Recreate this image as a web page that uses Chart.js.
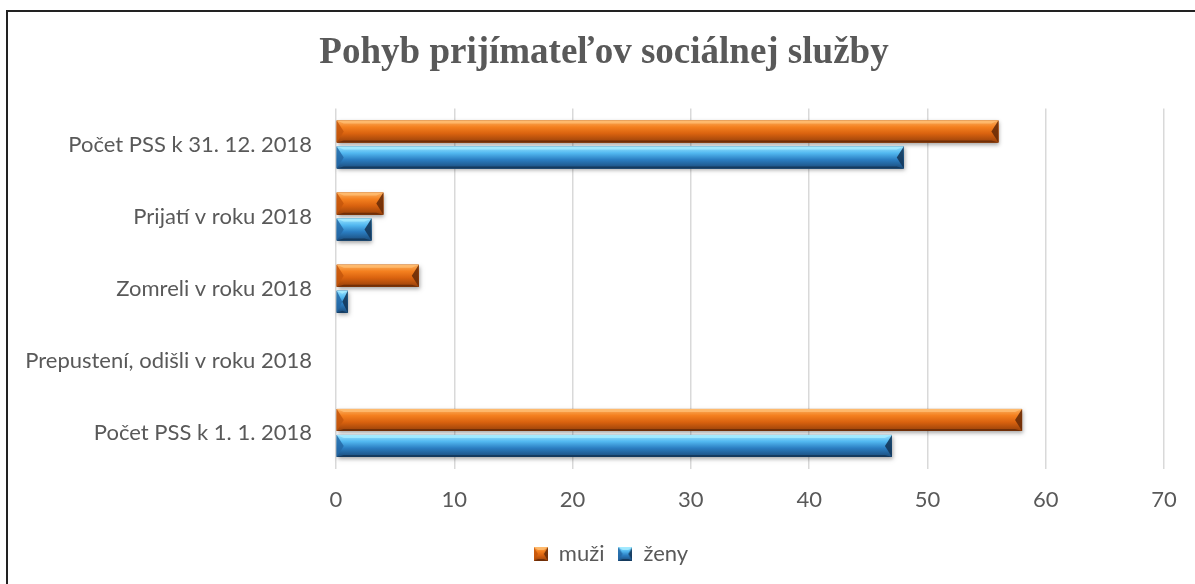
<!DOCTYPE html>
<html>
<head>
<meta charset="utf-8">
<script src="https://cdn.jsdelivr.net/npm/chart.js@4"></script>
<style>
  html, body { margin: 0; padding: 0; background: #fff; overflow: hidden; }
  #wrap { position: relative; width: 1195px; height: 584px; overflow: hidden; }
  #frame { position: absolute; left: 6px; top: 10px; width: 1300px; height: 700px; border: 2px solid #222; pointer-events: none; }
</style>
</head>
<body>
<div id="wrap">
  <canvas id="chart" width="1195" height="584"></canvas>
  <div id="frame"></div>
</div>
<script>
const categories = [
  'Počet PSS k 31. 12. 2018',
  'Prijatí v roku 2018',
  'Zomreli v roku 2018',
  'Prepustení, odišli v roku 2018',
  'Počet PSS k 1. 1. 2018'
];
const muzi = [56, 4, 7, 0, 58];
const zeny = [48, 3, 1, 0, 47];
const xTicks = [0, 10, 20, 30, 40, 50, 60, 70];

const textColor = '#595959';
const labelFont = "'Lato', 'Open Sans', sans-serif";

// bevel colours per series
const bevel = {
  muzi: { stops: ['#fbb060', '#f4801f', '#d9620f', '#96400a'], light: '#ffbe73', dark: '#6a2c08', end: '#c4560c' },
  zeny: { stops: ['#9ae4ff', '#52b8f0', '#2b7ec2', '#1b4b7a'], light: '#a8ecff', dark: '#14375a', end: '#2569a6' }
};

function drawBevelBox(ctx, c, left, top, w, h, b) {
  const right = left + w, bottom = top + h;
  const g = ctx.createLinearGradient(0, top, 0, bottom);
  g.addColorStop(0, c.stops[0]);
  g.addColorStop(0.3, c.stops[1]);
  g.addColorStop(0.6, c.stops[2]);
  g.addColorStop(1, c.stops[3]);
  ctx.fillStyle = g;
  ctx.fillRect(left, top, w, h);

  ctx.save();
  ctx.fillStyle = c.light;
  ctx.globalAlpha = 0.8;
  ctx.beginPath();
  ctx.moveTo(left, top); ctx.lineTo(right, top);
  ctx.lineTo(right - b, top + 3); ctx.lineTo(left + b, top + 3);
  ctx.closePath(); ctx.fill();

  ctx.globalAlpha = 0.9;
  ctx.fillStyle = c.dark;
  ctx.beginPath();
  ctx.moveTo(left, bottom); ctx.lineTo(right, bottom);
  ctx.lineTo(right - b, bottom - 2); ctx.lineTo(left + b, bottom - 2);
  ctx.closePath(); ctx.fill();

  ctx.globalAlpha = 0.85;
  ctx.fillStyle = c.end;
  ctx.beginPath();
  ctx.moveTo(left, top); ctx.lineTo(left + b, top + h / 2); ctx.lineTo(left, bottom);
  ctx.closePath(); ctx.fill();

  ctx.globalAlpha = 0.9;
  ctx.fillStyle = c.dark;
  ctx.beginPath();
  ctx.moveTo(right, top); ctx.lineTo(right - b, top + h / 2); ctx.lineTo(right, bottom);
  ctx.closePath(); ctx.fill();
  ctx.restore();
}

// small bevelled swatch for the legend
function legendIcon(c) {
  const cv = document.createElement('canvas');
  cv.width = 14; cv.height = 14;
  drawBevelBox(cv.getContext('2d'), c, 0, 0, 14, 14, 4);
  return cv;
}

// draws the bevelled look over the plain bars
const bevelPlugin = {
  id: 'bevel',
  afterDatasetsDraw(chart) {
    const ctx = chart.ctx;
    chart.data.datasets.forEach((ds, i) => {
      const meta = chart.getDatasetMeta(i);
      const c = bevel[ds.key];
      meta.data.forEach(bar => {
        const { x, y, base, height } = bar.getProps(['x', 'y', 'base', 'height'], true);
        const left = Math.min(x, base), right = Math.max(x, base);
        const top = y - height / 2;
        const w = right - left;
        if (w < 0.5) return;

        ctx.save();
        ctx.shadowColor = 'rgba(0,0,0,0.35)';
        ctx.shadowBlur = 4;
        ctx.shadowOffsetY = 2;
        ctx.shadowOffsetX = 1;
        ctx.fillStyle = c.stops[3];
        ctx.fillRect(left, top, w, height);
        ctx.restore();

        drawBevelBox(ctx, c, left, top, w, height, Math.min(7, w / 2));
      });
    });
  }
};

// moves title and legend centre to the right, like in the original
const shiftPlugin = {
  id: 'shift',
  afterLayout(chart) {
    if (chart.titleBlock) chart.titleBlock.left += 44;
    if (chart.legend) chart.legend.left += 58;
  }
};

new Chart(document.getElementById('chart').getContext('2d'), {
  type: 'bar',
  data: {
    labels: categories,
    datasets: [
      { key: 'muzi', label: 'muži', data: muzi, backgroundColor: '#d9620f', borderWidth: 0, pointStyle: legendIcon(bevel.muzi) },
      { key: 'zeny', label: 'ženy', data: zeny, backgroundColor: '#2b7ec2', borderWidth: 0, pointStyle: legendIcon(bevel.zeny) }
    ]
  },
  plugins: [bevelPlugin, shiftPlugin],
  options: {
    indexAxis: 'y',
    responsive: false,
    animation: false,
    categoryPercentage: 0.72,
    barPercentage: 0.85,
    layout: { padding: { left: 0, right: 31, top: 0, bottom: 9 } },
    scales: {
      x: {
        min: 0,
        max: 70,
        afterBuildTicks: scale => { scale.ticks = xTicks.map(v => ({ value: v })); },
        afterFit: scale => { scale.height = 60; },
        grid: { color: '#d9d9d9', lineWidth: 1.5, drawTicks: false },
        border: { display: false },
        ticks: { color: textColor, font: { family: labelFont, size: 22 }, padding: 18 }
      },
      y: {
        grid: { display: false, drawTicks: false },
        border: { display: false },
        afterFit: scale => { scale.width = 336; },
        ticks: { color: textColor, font: { family: labelFont, size: 22 }, padding: 24 }
      }
    },
    plugins: {
      title: {
        display: true,
        text: 'Pohyb prijímateľov sociálnej služby',
        color: textColor,
        font: { family: "'Liberation Serif', 'Times New Roman', serif", size: 37, weight: 'bold' },
        padding: { top: 31, bottom: 33 }
      },
      legend: {
        position: 'bottom',
        labels: {
          color: textColor,
          font: { family: labelFont, size: 22 },
          usePointStyle: true,
          boxWidth: 14,
          boxHeight: 14,
          padding: 14
        }
      },
      tooltip: { enabled: false }
    }
  }
});
</script>
</body>
</html>
